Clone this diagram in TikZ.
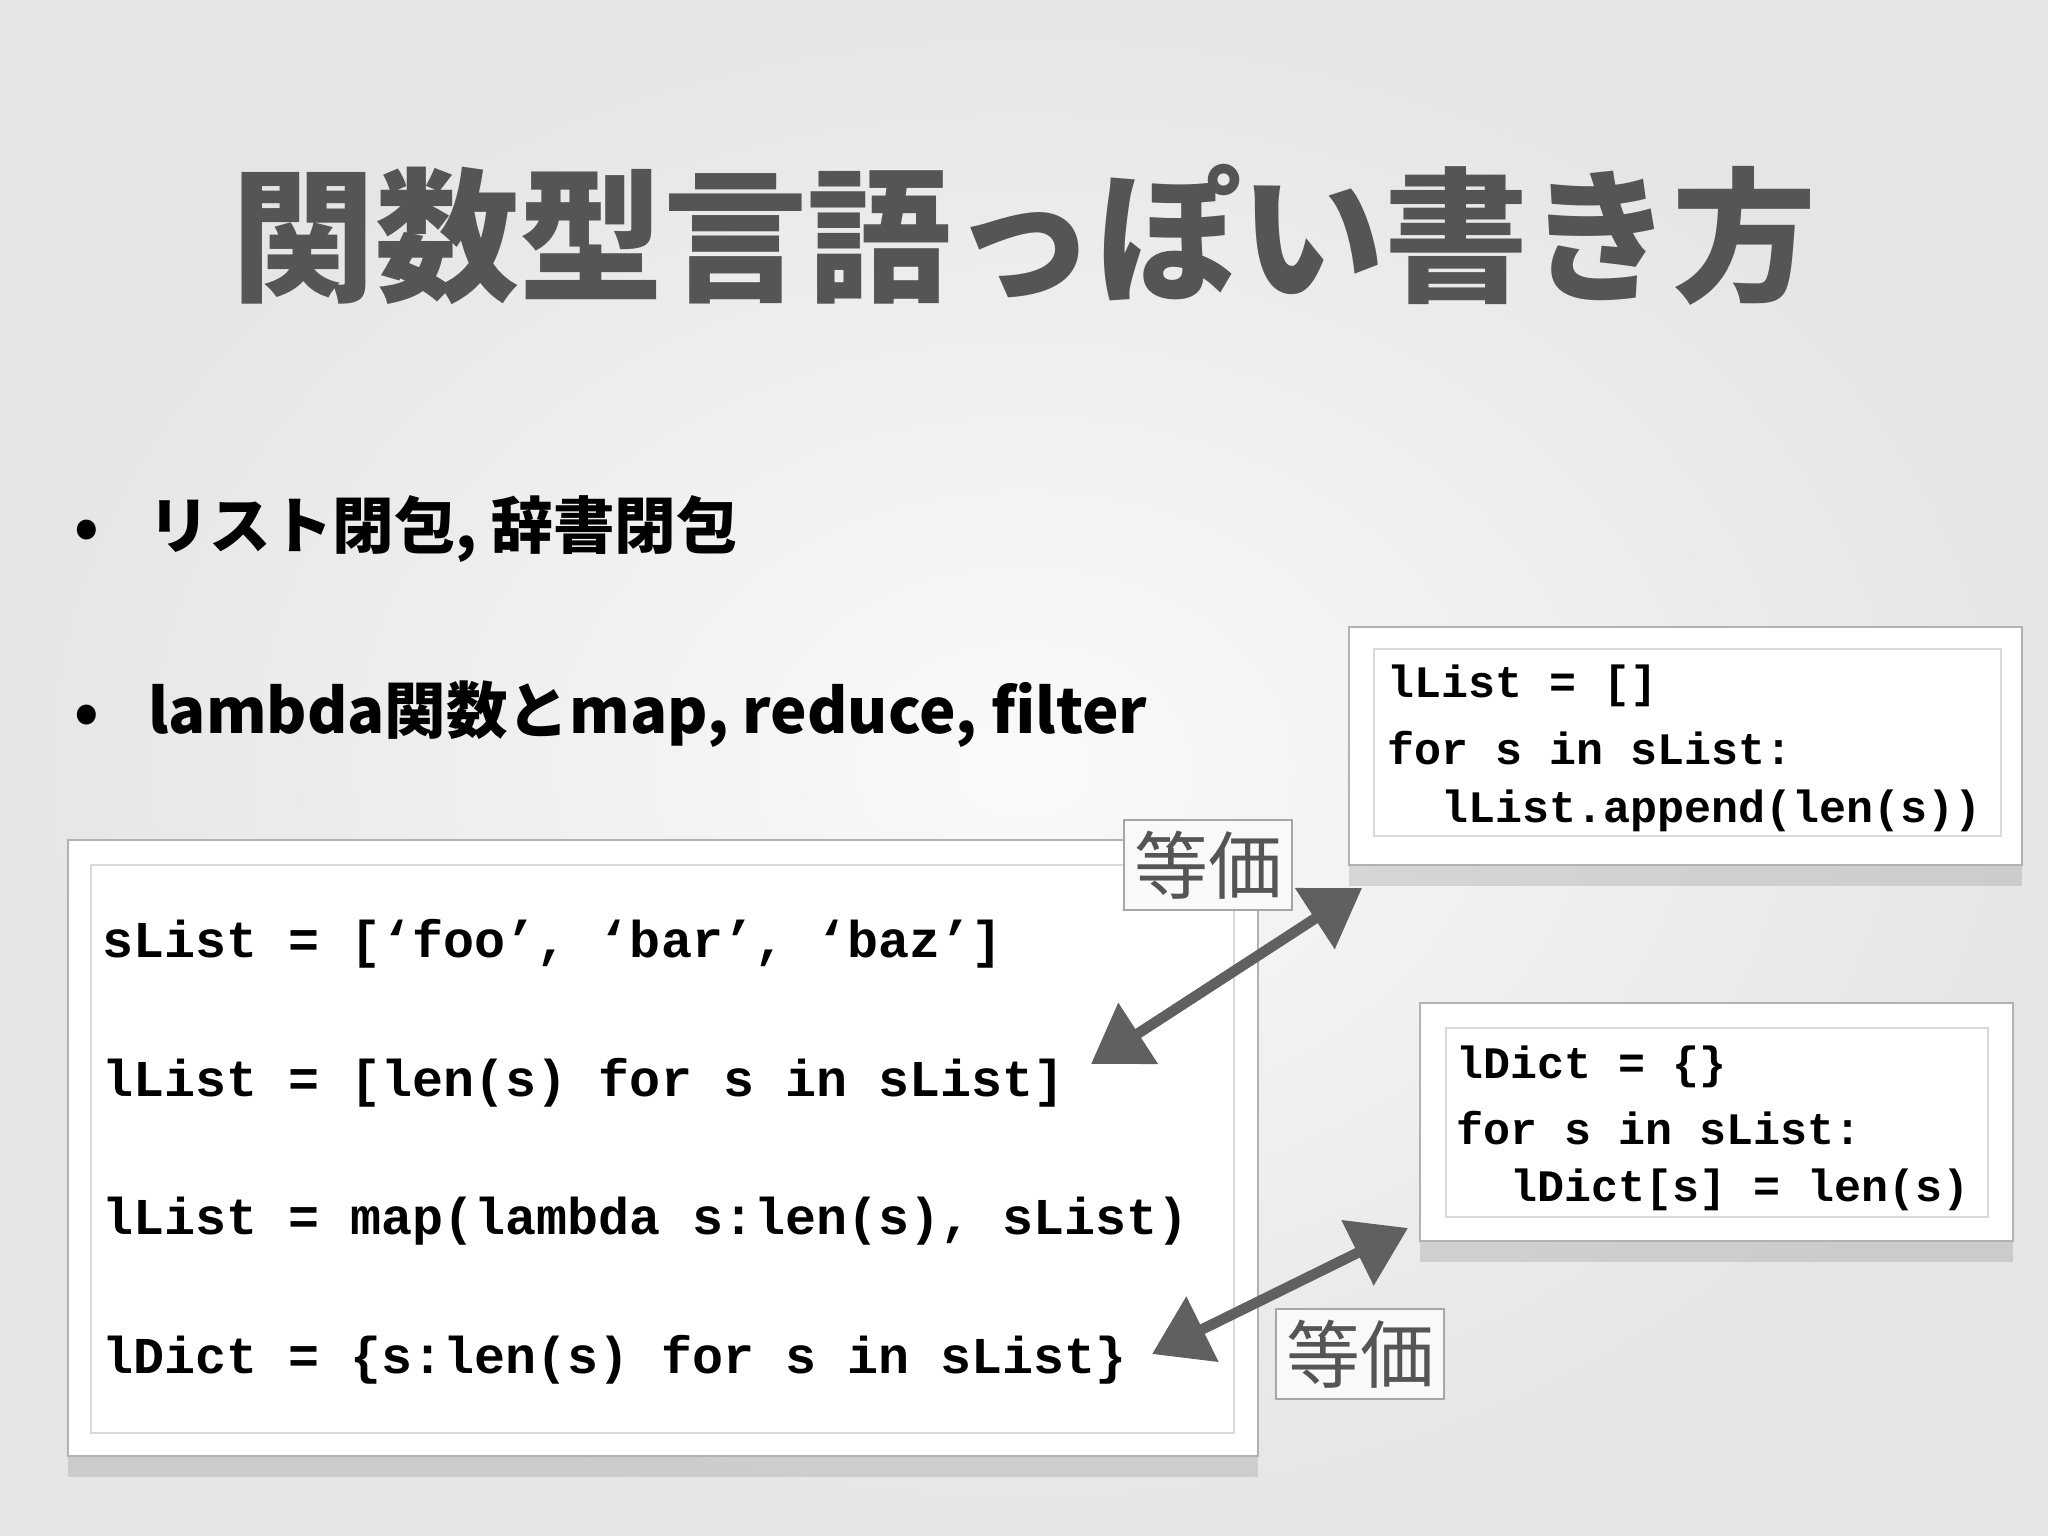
\documentclass[tikz,border=0pt]{standalone}
\usepackage{fontspec}
\setmonofont{Liberation Mono}
\newfontfamily\cjk{Noto Sans CJK JP}
\usetikzlibrary{arrows.meta,positioning,shadows}
\definecolor{slidegray}{HTML}{555555}
\definecolor{arrowgray}{HTML}{606060}
\tikzset{
  codebox/.style={draw=gray!60,fill=white,line width=0.6pt,
    drop shadow={shadow xshift=0pt,shadow yshift=-6pt,opacity=0.25}},
  codeline/.style={anchor=west,inner sep=0pt,font=\ttfamily\bfseries},
  eqlabel/.style={draw=gray!70,fill=gray!5,line width=0.6pt,inner sep=3pt,
    font=\cjk\fontsize{21pt}{22pt}\selectfont,text=slidegray},
  eqarrow/.style={{Triangle[length=16pt,width=20pt]}-{Triangle[length=16pt,width=20pt]},
    line width=3pt,draw=arrowgray,fill=arrowgray}
}
\begin{document}
\begin{tikzpicture}[x=0.01cm,y=-0.01cm]
\useasboundingbox (0,0) rectangle (2048,1536);
\shade[inner color=gray!4,outer color=gray!20] (0,0) rectangle (2048,1536);

% title
\node (title) at (1024,235) {\cjk\bfseries\fontsize{41pt}{44pt}\selectfont\color{slidegray}関数型言語っぽい書き方};

% bullets
\node[anchor=west,font=\cjk\bfseries\fontsize{17.5pt}{20pt}\selectfont] (b1) at (62,529) {•\hspace{0.8em}リスト閉包, 辞書閉包};
\node[anchor=west,font=\cjk\bfseries\fontsize{17.5pt}{20pt}\selectfont] (b2) at (62,714) {•\hspace{0.8em}lambda関数とmap, reduce, filter};

% left code box
\draw[codebox] (68,840) rectangle (1258,1456);
\draw[gray!30] (91,865) rectangle (1234,1433);
\begin{scope}[every node/.style={codeline,font=\ttfamily\bfseries\fontsize{14.7pt}{16pt}\selectfont}]
\node (c1) at (102,944) {sList = [‘foo’, ‘bar’, ‘baz’]};
\node (c2) at (102,1083) {lList = [len(s) for s in sList]};
\node (c3) at (102,1221) {lList = map(lambda s:len(s), sList)};
\node (c4) at (102,1360) {lDict = \{s:len(s) for s in sList\}};
\end{scope}

% top right box
\draw[codebox] (1349,627) rectangle (2022,865);
\draw[gray!30] (1374,649) rectangle (2001,836);
\begin{scope}[every node/.style={codeline,font=\ttfamily\bfseries\fontsize{12.8pt}{14pt}\selectfont}]
\node (l1) at (1387,686) {lList = []};
\node (l2) at (1387,748) {for s in sList:};
\node (l3) at (1387,811) {\ \ lList.append(len(s))};
\end{scope}

% bottom right box
\draw[codebox] (1420,1003) rectangle (2013,1241);
\draw[gray!30] (1446,1028) rectangle (1988,1217);
\begin{scope}[every node/.style={codeline,font=\ttfamily\bfseries\fontsize{12.8pt}{14pt}\selectfont}]
\node (d1) at (1456,1067) {lDict = \{\}};
\node (d2) at (1456,1128) {for s in sList:};
\node (d3) at (1456,1190) {\ \ lDict[s] = len(s)};
\end{scope}

% equivalence labels
\node[eqlabel,minimum width=1.63cm,minimum height=0.9cm] (eq1) at (1208,865) {等価};
\node[eqlabel,minimum width=1.63cm,minimum height=0.89cm] (eq2) at (1360,1354) {等価};

% arrows
\coordinate (a1s) at (1091,1064);
\coordinate (a1e) at (1362,888);
\coordinate (a2s) at (1152,1354);
\coordinate (a2e) at (1408,1228);
\draw[eqarrow] (a1s) -- (a1e);
\draw[eqarrow] (a2s) -- (a2e);
\end{tikzpicture}
\end{document}
